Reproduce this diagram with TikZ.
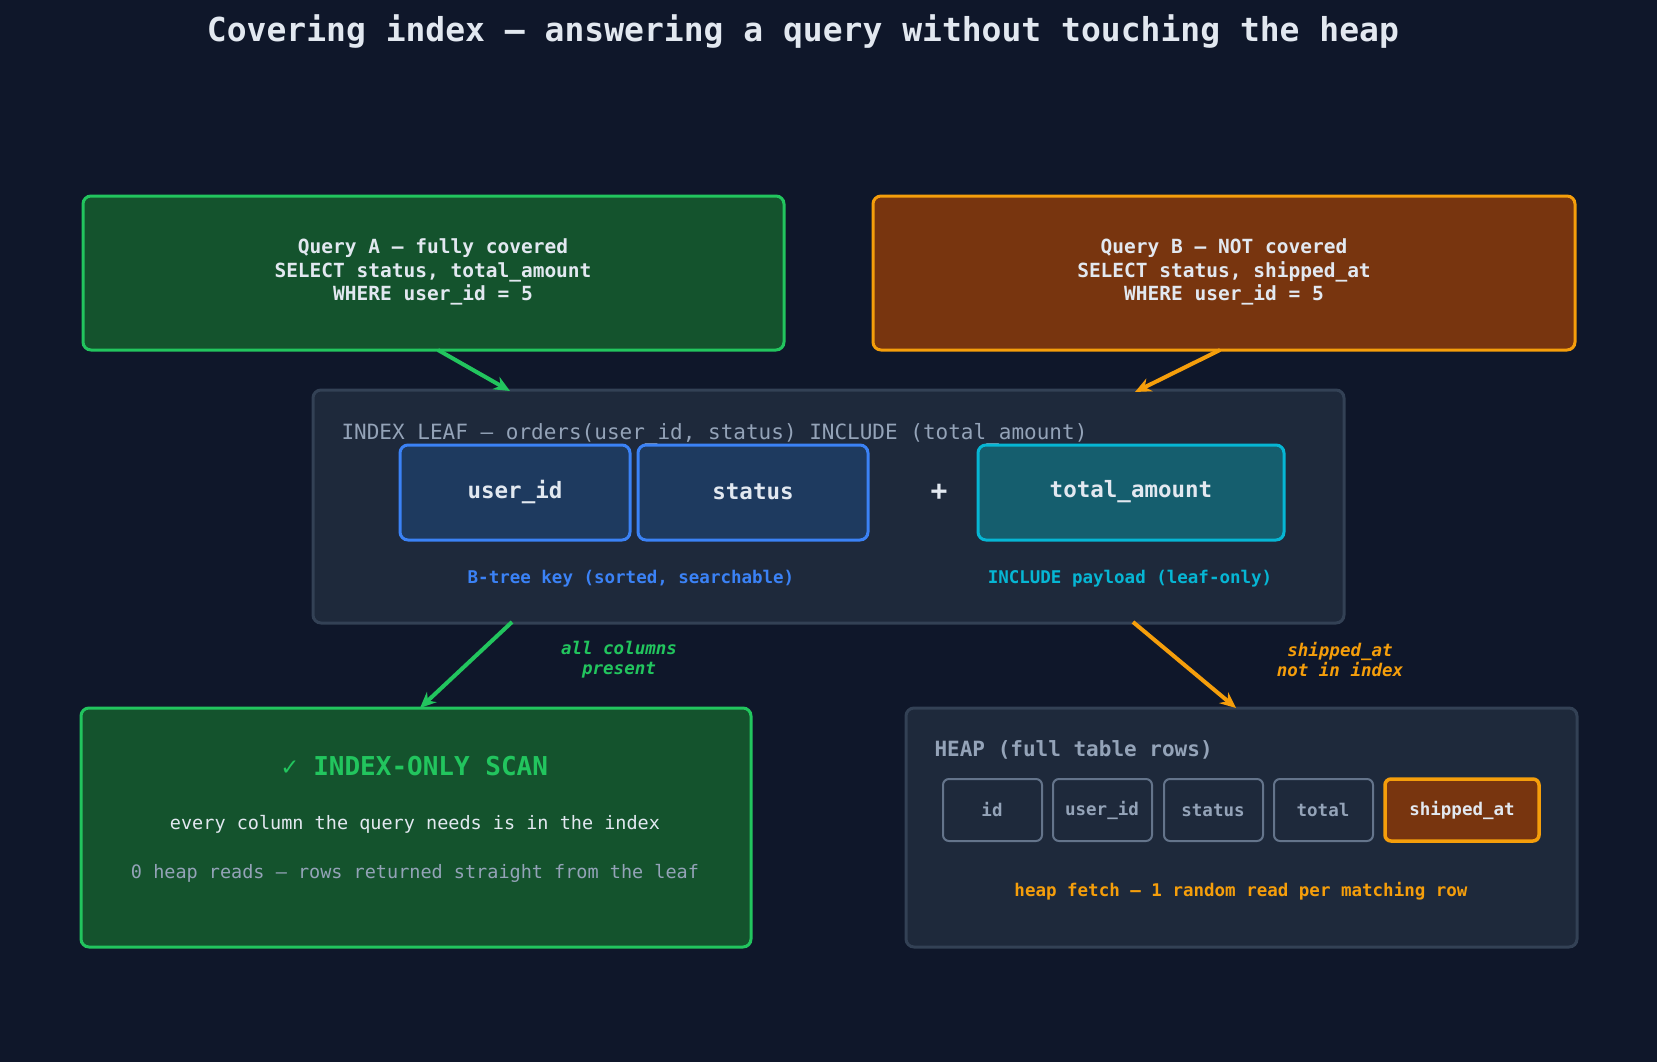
\documentclass[tikz,border=0pt]{standalone}
\usepackage{fontspec}
\setmainfont{DejaVu Sans Mono}
\usetikzlibrary{arrows.meta}
\definecolor{bg}{HTML}{0F172A}
\definecolor{txt}{HTML}{E2E8F0}
\definecolor{mute}{HTML}{94A3B8}
\definecolor{grnf}{HTML}{14532D}
\definecolor{grn}{HTML}{22C55E}
\definecolor{orgf}{HTML}{78350F}
\definecolor{org}{HTML}{F59E0B}
\definecolor{panel}{HTML}{1E293B}
\definecolor{panelb}{HTML}{334155}
\definecolor{keyf}{HTML}{1E3A5F}
\definecolor{keyb}{HTML}{3B82F6}
\definecolor{incf}{HTML}{155E6E}
\definecolor{incb}{HTML}{06B6D4}
\definecolor{cellb}{HTML}{64748B}
\tikzset{
  box/.style={rounded corners=8pt, line width=3pt},
  cell/.style={rounded corners=6pt, line width=2pt, draw=cellb, fill=panel, text=mute, font=\fontsize{17}{20}\selectfont\bfseries},
  flow/.style={line width=4pt, -{Stealth[length=16pt,width=14pt]}},
}
\begin{document}
\begin{tikzpicture}[x=1pt, y=-1pt]
  \fill[bg] (0,0) rectangle (1657,1062);
  \useasboundingbox (0,0) rectangle (1657,1062);

  \node[text=txt, font=\fontsize{33}{36}\selectfont\bfseries] (title) at (803,32) {Covering index — answering a query without touching the heap};

  % queries
  \draw[box, fill=grnf, draw=grn] (83,196) rectangle (784,350);
  \node[text=txt, align=center, font=\fontsize{19.5}{23.5}\selectfont\bfseries] (qa) at (433,272) {Query A  —  fully covered\\SELECT status, total\_amount\\WHERE user\_id = 5};
  \draw[box, fill=orgf, draw=org] (873,196) rectangle (1575,350);
  \node[text=txt, align=center, font=\fontsize{19.5}{23.5}\selectfont\bfseries] (qb) at (1224,272) {Query B  —  NOT covered\\SELECT status, shipped\_at\\WHERE user\_id = 5};
  \coordinate (qaout) at (438,350);
  \coordinate (qbout) at (1220,350);

  % index leaf
  \draw[box, fill=panel, draw=panelb] (313,390) rectangle (1344,623);
  \node[anchor=west, text=mute, font=\fontsize{21}{24}\selectfont] (leaft) at (338,434) {INDEX LEAF  —  orders(user\_id, status) INCLUDE (total\_amount)};
  \coordinate (leafa) at (510,391);
  \coordinate (leafb) at (1135,392);
  \draw[box, fill=keyf, draw=keyb] (400,445) rectangle (630,540);
  \node[text=txt, font=\fontsize{22.5}{26}\selectfont\bfseries] (kuser) at (515,492) {user\_id};
  \draw[box, fill=keyf, draw=keyb] (638,445) rectangle (868,540);
  \node[text=txt, font=\fontsize{22.5}{26}\selectfont\bfseries] (kstatus) at (753,492) {status};
  \node[text=txt, font=\fontsize{28}{30}\selectfont\bfseries] (plus) at (939,492) {+};
  \draw[box, fill=incf, draw=incb] (978,445) rectangle (1284,540);
  \node[text=txt, font=\fontsize{22.5}{26}\selectfont\bfseries] (ktotal) at (1131,492) {total\_amount};
  \node[text=keyb, font=\fontsize{17.5}{20}\selectfont\bfseries] (keylbl) at (631,579) {B-tree key  (sorted, searchable)};
  \node[text=incb, font=\fontsize{17.5}{20}\selectfont\bfseries] (inclbl) at (1130,579) {INCLUDE payload  (leaf-only)};
  \coordinate (leafout1) at (512,622);
  \coordinate (leafout2) at (1133,622);

  % index-only scan
  \draw[box, fill=grnf, draw=grn] (81,708) rectangle (751,947);
  \coordinate (scanin) at (420,708);
  \node[text=grn, font=\fontsize{26}{30}\selectfont\bfseries] (scant) at (415,766) {✓  INDEX-ONLY SCAN};
  \node[text=txt, font=\fontsize{18.5}{22}\selectfont] (scan1) at (415,824) {every column the query needs is in the index};
  \node[text=mute, font=\fontsize{18.5}{22}\selectfont] (scan2) at (415,873) {0 heap reads  —  rows returned straight from the leaf};

  % heap
  \draw[box, fill=panel, draw=panelb] (906,708) rectangle (1577,947);
  \coordinate (heapin) at (1236,708);
  \node[anchor=west, text=mute, font=\fontsize{21}{24}\selectfont\bfseries] (heapt) at (931,750) {HEAP  (full table rows)};
  \draw[cell] (943,779) rectangle (1042,841);
  \node[text=mute, font=\fontsize{17.5}{20}\selectfont\bfseries] (cid) at (992,810) {id};
  \draw[cell] (1053,779) rectangle (1152,841);
  \node[text=mute, font=\fontsize{17.5}{20}\selectfont\bfseries] (cuser) at (1102,810) {user\_id};
  \draw[cell] (1164,779) rectangle (1263,841);
  \node[text=mute, font=\fontsize{17.5}{20}\selectfont\bfseries] (cstatus) at (1213,810) {status};
  \draw[cell] (1274,779) rectangle (1373,841);
  \node[text=mute, font=\fontsize{17.5}{20}\selectfont\bfseries] (ctotal) at (1323,810) {total};
  \draw[cell, fill=orgf, draw=org, line width=3.5pt] (1385,779) rectangle (1539,841);
  \node[text=txt, font=\fontsize{17.5}{20}\selectfont\bfseries] (cship) at (1462,810) {shipped\_at};
  \node[text=org, font=\fontsize{17.5}{20}\selectfont\bfseries] (heapf) at (1241,891) {heap fetch  —  1 random read per matching row};

  % arrows
  \draw[flow, grn] (qaout) -- (leafa);
  \draw[flow, org] (qbout) -- (leafb);
  \draw[flow, grn] (leafout1) -- (scanin);
  \draw[flow, org] (leafout2) -- (heapin);
  \node[text=grn, align=center, font=\fontsize{17.5}{20}\selectfont\bfseries\itshape] (lblall) at (619,660) {all columns\\present};
  \node[text=org, align=center, font=\fontsize{17.5}{20}\selectfont\bfseries\itshape] (lblship) at (1340,660) {shipped\_at\\not in index};
\end{tikzpicture}
\end{document}
